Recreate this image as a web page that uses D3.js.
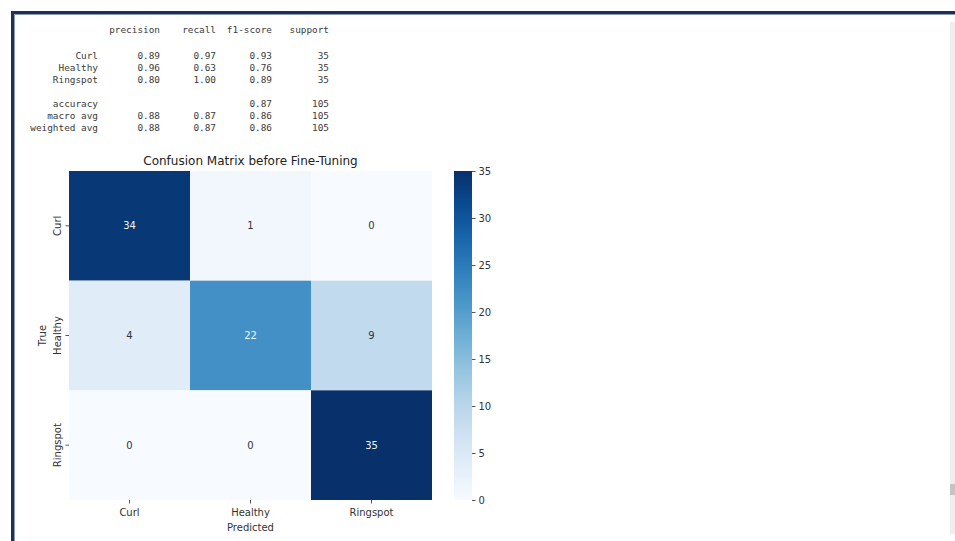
<!DOCTYPE html>
<meta charset="utf-8">
<style>
body { margin: 0; background: #fff; }
svg { display: block; }
.report text { font-family: "DejaVu Sans Mono", monospace; font-size: 9.4px; fill: #3a3a3a; }
.cm text { font-family: "DejaVu Sans", sans-serif; }
</style>
<body>
<svg id="chart" width="955" height="541"></svg>
<script src="https://d3js.org/d3.v7.min.js"></script>
<script>
// classification report
var reportLabels = ["Curl", "Healthy", "Ringspot"];
var precision = [0.89, 0.96, 0.80];
var recall = [0.97, 0.63, 1.00];
var f1 = [0.93, 0.76, 0.89];
var support = [35, 35, 35];
var summaryLabels = ["accuracy", "macro avg", "weighted avg"];
var summaryPrecision = [null, 0.88, 0.88];
var summaryRecall = [null, 0.87, 0.87];
var summaryF1 = [0.87, 0.86, 0.86];
var summarySupport = [105, 105, 105];

// confusion matrix
var classes = ["Curl", "Healthy", "Ringspot"];
var matrix = [
  [34, 1, 0],
  [4, 22, 9],
  [0, 0, 35]
];
var colorTicks = [0, 5, 10, 15, 20, 25, 30, 35];

var svg = d3.select("#chart");

// frame of the notebook cell
svg.append("rect").attr("x", 0).attr("y", 0).attr("width", 955).attr("height", 541).attr("fill", "#fff");
svg.append("path")
  .attr("d", "M12.5,541 V12.5 H955")
  .attr("fill", "none").attr("stroke", "#1d3158").attr("stroke-width", 3);
svg.append("path")
  .attr("d", "M14.5,541 V14.5 H955")
  .attr("fill", "none").attr("stroke", "#8c9bb5").attr("stroke-width", 1);
// scrollbar
svg.append("rect").attr("x", 950).attr("y", 22).attr("width", 5).attr("height", 512).attr("fill", "#eeeeee");
svg.append("rect").attr("x", 950).attr("y", 484).attr("width", 5).attr("height", 11).attr("fill", "#c4c4c4");

// ---- report text
var rep = svg.append("g").attr("class", "report");
var colX = [98, 160, 216, 272, 329];
var fmt = d3.format(".2f");
function row(y, cells) {
  cells.forEach(function(c, i) {
    if (c === null || c === undefined) return;
    rep.append("text").attr("x", colX[i]).attr("y", y)
      .attr("text-anchor", "end").text(c);
  });
}
row(33, [null, "precision", "recall", "f1-score", "support"]);
reportLabels.forEach(function(l, i) {
  row(59 + i * 12, [l, fmt(precision[i]), fmt(recall[i]), fmt(f1[i]), support[i]]);
});
summaryLabels.forEach(function(l, i) {
  row(107 + i * 12, [l,
    summaryPrecision[i] === null ? null : fmt(summaryPrecision[i]),
    summaryRecall[i] === null ? null : fmt(summaryRecall[i]),
    fmt(summaryF1[i]), summarySupport[i]]);
});

// ---- heatmap
var hmLeft = 69, hmTop = 171, hmWidth = 363, hmHeight = 329;
var cm = svg.append("g").attr("class", "cm");

var x = d3.scaleBand().domain(classes).range([hmLeft, hmLeft + hmWidth]);
var y = d3.scaleBand().domain(classes).range([hmTop, hmTop + hmHeight]);
var color = d3.scaleSequential(d3.interpolateBlues).domain([0, 35]);

var cells = [];
matrix.forEach(function(r, i) {
  r.forEach(function(v, j) { cells.push({ t: classes[i], p: classes[j], v: v }); });
});

cm.selectAll("rect.cell").data(cells).enter().append("rect")
  .attr("class", "cell")
  .attr("x", function(d) { return x(d.p); })
  .attr("y", function(d) { return y(d.t); })
  .attr("width", x.bandwidth())
  .attr("height", y.bandwidth())
  .attr("fill", function(d) { return color(d.v); });

cm.selectAll("text.val").data(cells).enter().append("text")
  .attr("class", "val")
  .attr("x", function(d) { return x(d.p) + x.bandwidth() / 2; })
  .attr("y", function(d) { return y(d.t) + y.bandwidth() / 2; })
  .attr("dy", "0.35em")
  .attr("text-anchor", "middle")
  .attr("font-size", 10)
  .attr("fill", function(d) { return d.v > 17 ? "#f4f4f4" : "#333333"; })
  .text(function(d) { return d.v; });

var xAxis = cm.append("g").attr("transform", "translate(0," + (hmTop + hmHeight) + ")")
  .call(d3.axisBottom(x).tickSize(3.5).tickPadding(5));
var yAxis = cm.append("g").attr("transform", "translate(" + hmLeft + ",0)")
  .call(d3.axisLeft(y).tickSize(3.5).tickPadding(3));
[xAxis, yAxis].forEach(function(a) {
  a.select(".domain").remove();
  a.selectAll("line").attr("stroke", "#555");
  a.selectAll("text").attr("font-size", 10).attr("fill", "#333")
    .attr("font-family", "DejaVu Sans, sans-serif");
});
yAxis.selectAll(".tick text")
  .attr("transform", "rotate(-90)")
  .attr("text-anchor", "middle")
  .attr("x", 0).attr("y", -8).attr("dy", "0");

cm.append("text").attr("x", hmLeft + hmWidth / 2).attr("y", 165)
  .attr("text-anchor", "middle").attr("font-size", 12).attr("fill", "#222")
  .text("Confusion Matrix before Fine-Tuning");
cm.append("text").attr("x", hmLeft + hmWidth / 2).attr("y", 531)
  .attr("text-anchor", "middle").attr("font-size", 10).attr("fill", "#333")
  .text("Predicted");
cm.append("text").attr("transform", "translate(46," + (hmTop + hmHeight / 2) + ") rotate(-90)")
  .attr("text-anchor", "middle").attr("font-size", 10).attr("fill", "#333")
  .text("True");

// ---- colorbar
var cbX = 454, cbW = 18;
var cbScale = d3.scaleLinear().domain([0, 35]).range([hmTop + hmHeight, hmTop]);
var defs = svg.append("defs");
var grad = defs.append("linearGradient").attr("id", "cbgrad")
  .attr("x1", 0).attr("y1", 1).attr("x2", 0).attr("y2", 0);
d3.range(0, 1.0001, 0.1).forEach(function(t) {
  grad.append("stop").attr("offset", t).attr("stop-color", d3.interpolateBlues(t));
});
cm.append("rect").attr("x", cbX).attr("y", hmTop).attr("width", cbW).attr("height", hmHeight)
  .attr("fill", "url(#cbgrad)");
var cbAxis = cm.append("g").attr("transform", "translate(" + (cbX + cbW) + ",0)")
  .call(d3.axisRight(cbScale).tickValues(colorTicks).tickSize(3.5).tickPadding(3));
cbAxis.select(".domain").remove();
cbAxis.selectAll("line").attr("stroke", "#555");
cbAxis.selectAll("text").attr("font-size", 10).attr("fill", "#333")
  .attr("font-family", "DejaVu Sans, sans-serif");
</script>
</body>
